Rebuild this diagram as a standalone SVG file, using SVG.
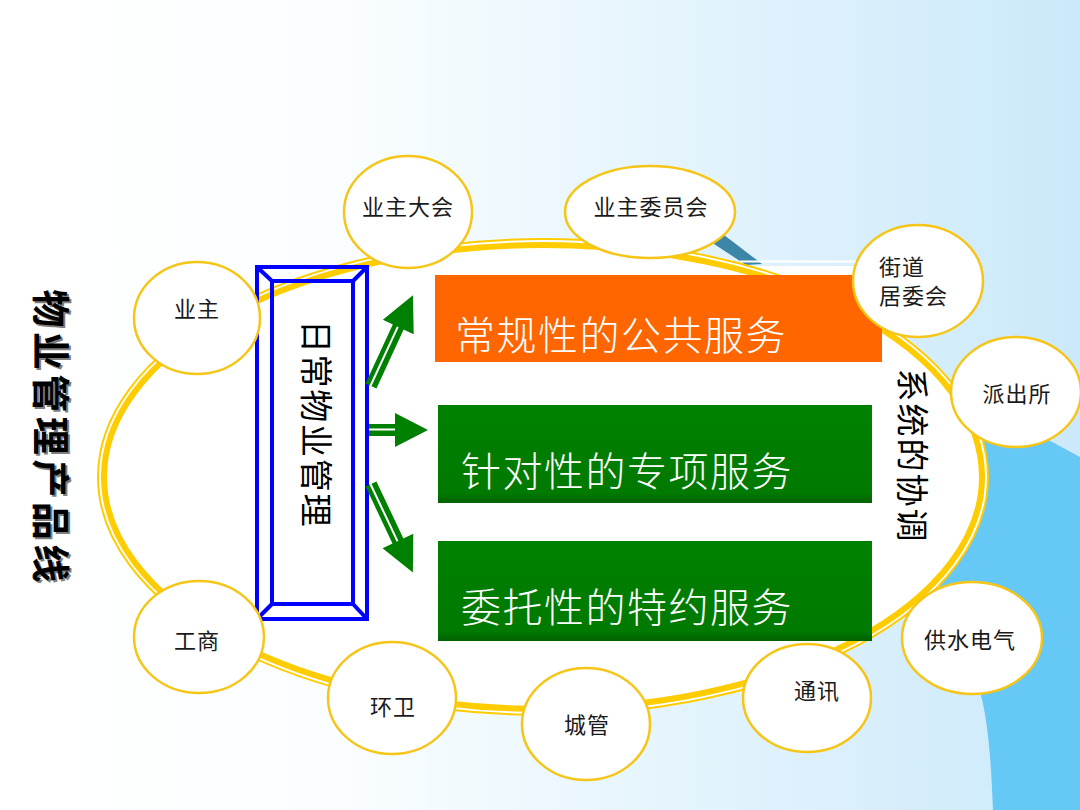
<svg xmlns="http://www.w3.org/2000/svg" width="1080" height="810" viewBox="0 0 1080 810">
<defs>
<linearGradient id="bg" x1="0" y1="0" x2="1" y2="0">
<stop offset="0" stop-color="#FFFFFF"/>
<stop offset="0.3" stop-color="#FBFEFF"/>
<stop offset="1" stop-color="#CBE9FA"/>
</linearGradient>
<linearGradient id="grn" x1="0" y1="0" x2="0" y2="1">
<stop offset="0" stop-color="#008000"/>
<stop offset="0.9" stop-color="#007A00"/>
<stop offset="1" stop-color="#006000"/>
</linearGradient>
<style>
.node ellipse{fill:#FFFFFF;stroke:#F5C518;stroke-width:2.5}
.lbl{font-family:"Noto Sans CJK SC","Noto Sans CJK JP",sans-serif;font-size:22px;fill:#1A1A1A;letter-spacing:1px}
.big{font-family:"Noto Sans CJK SC","Noto Sans CJK JP",sans-serif;font-size:40px;fill:#FFFFFF;letter-spacing:1.5px;font-weight:300}
.vert{font-family:"Noto Sans CJK SC","Noto Sans CJK JP",sans-serif;fill:#000000}
.arw .shaft{fill:#008000}
.arw .head{fill:#008000}
.arw line{stroke:#FFFFFF;stroke-width:2}
.blue{fill:none;stroke:#0000FF;stroke-width:4}
</style>
</defs>
<rect x="0" y="0" width="1080" height="810" fill="url(#bg)"/>
<path d="M960 420 L1030 430 L1080 457 L1080 810 L993 810 C991 760 988 715 978 685 L930 560 Z" fill="#66C8F5"/>
<polygon points="711,242 724,235 762,264 746,265" fill="#3C87A8"/>
<rect x="690" y="266" width="170" height="10" fill="#FFFFFF"/>
<line x1="740" y1="261.5" x2="858" y2="261.5" stroke="#FFFFFF" stroke-width="2"/>
<g id="ring">
<ellipse cx="543" cy="477" rx="445" ry="238" fill="#FFFFFF" stroke="#FFCC00" stroke-width="2"/>
<ellipse cx="543" cy="477" rx="439" ry="232" fill="none" stroke="#FFCC00" stroke-width="6"/>
</g>
<g id="box-public">
<rect x="435" y="275" width="447" height="87" fill="#FF6600"/>
<text class="big" x="455" y="350">常规性的公共服务</text>
</g>
<g id="box-special">
<rect x="438" y="405" width="434" height="98" fill="url(#grn)"/>
<text class="big" x="461" y="486">针对性的专项服务</text>
</g>
<g id="box-entrusted">
<rect x="438" y="541" width="434" height="100" fill="url(#grn)"/>
<text class="big" x="461" y="622">委托性的特约服务</text>
</g>
<g id="daily-mgmt">
<rect class="blue" x="257" y="267" width="110" height="352"/>
<rect class="blue" x="272" y="281" width="81" height="323"/>
<line class="blue" x1="257" y1="267" x2="272" y2="281"/>
<line class="blue" x1="367" y1="267" x2="353" y2="281"/>
<line class="blue" x1="257" y1="619" x2="272" y2="604"/>
<line class="blue" x1="367" y1="619" x2="353" y2="604"/>
<text class="vert" transform="translate(318,424) rotate(90)" text-anchor="middle" dominant-baseline="central" font-size="33" letter-spacing="1.7">日常物业管理</text>
</g>
<g id="connectors" class="arw">
<g transform="translate(371,386) rotate(-65.2)">
<rect class="shaft" x="0" y="-6" width="66" height="12"/>
<line x1="0" y1="-0.5" x2="66" y2="-0.5"/>
<polygon class="head" points="65,-17 100,0 65,17"/>
</g>
<g transform="translate(369,430)">
<rect class="shaft" x="0" y="-6" width="27" height="12"/>
<line x1="0" y1="-0.5" x2="27" y2="-0.5"/>
<polygon class="head" points="26,-17 59,0 26,17"/>
</g>
<g transform="translate(371,484) rotate(64.7)">
<rect class="shaft" x="0" y="-6" width="64" height="12"/>
<line x1="0" y1="0.5" x2="64" y2="0.5"/>
<polygon class="head" points="63,-17 98,0 63,17"/>
</g>
</g>
<g id="title-left">
<text class="vert" transform="translate(55,440) rotate(90)" text-anchor="middle" dominant-baseline="central" font-size="38" font-weight="bold" letter-spacing="4.5" fill="#999999" opacity="0.5">物业管理产品线</text>
<text class="vert" transform="translate(53,438) rotate(90)" text-anchor="middle" dominant-baseline="central" font-size="38" font-weight="bold" letter-spacing="4.5">物业管理产品线</text>
</g>
<g id="title-right">
<text class="vert" transform="translate(914,456) rotate(90)" text-anchor="middle" dominant-baseline="central" font-size="33" letter-spacing="2">系统的协调</text>
</g>
<g id="n-yezhudahui" class="node">
<ellipse cx="408" cy="212" rx="64" ry="56"/>
<text class="lbl" x="408" y="215" text-anchor="middle">业主大会</text>
</g>
<g id="n-yezhuweiyuanhui" class="node">
<ellipse cx="650" cy="212" rx="85" ry="46"/>
<text class="lbl" x="651" y="215" text-anchor="middle">业主委员会</text>
</g>
<g id="n-yezhu" class="node">
<ellipse cx="197" cy="318" rx="63" ry="56"/>
<text class="lbl" x="197" y="317" text-anchor="middle">业主</text>
</g>
<g id="n-jiedao" class="node">
<ellipse cx="918" cy="281" rx="65" ry="56"/>
<text class="lbl" x="879" y="275">街道</text>
<text class="lbl" x="879" y="304">居委会</text>
</g>
<g id="n-paichusuo" class="node">
<ellipse cx="1016" cy="392" rx="65" ry="55"/>
<text class="lbl" x="1017" y="402" text-anchor="middle">派出所</text>
</g>
<g id="n-gongshui" class="node">
<ellipse cx="972" cy="638" rx="70" ry="56"/>
<text class="lbl" x="970" y="648" text-anchor="middle">供水电气</text>
</g>
<g id="n-tongxun" class="node">
<ellipse cx="807" cy="698" rx="64" ry="54"/>
<text class="lbl" x="817" y="699" text-anchor="middle">通讯</text>
</g>
<g id="n-chengguan" class="node">
<ellipse cx="586" cy="724" rx="64" ry="56"/>
<text class="lbl" x="587" y="733" text-anchor="middle">城管</text>
</g>
<g id="n-huanwei" class="node">
<ellipse cx="392" cy="698" rx="64" ry="56"/>
<text class="lbl" x="393" y="715" text-anchor="middle">环卫</text>
</g>
<g id="n-gongshang" class="node">
<ellipse cx="199" cy="637" rx="65" ry="56"/>
<text class="lbl" x="197" y="649" text-anchor="middle">工商</text>
</g>
</svg>
